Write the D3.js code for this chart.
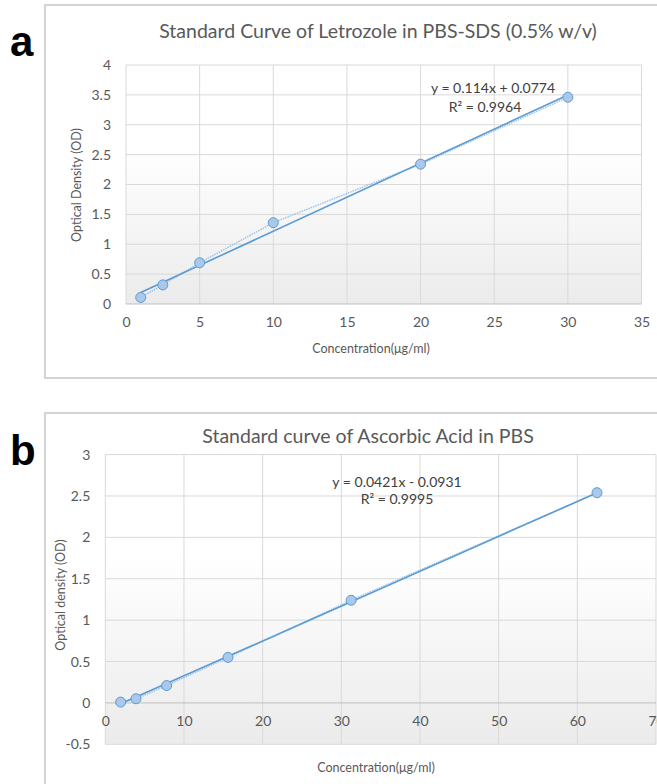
<!DOCTYPE html>
<html>
<head>
<meta charset="utf-8">
<script src="https://cdn.jsdelivr.net/npm/d3@7"></script>
<style>
  body { margin: 0; background: #fff; }
  svg { display: block; font-family: Lato, "Open Sans", sans-serif; }
</style>
</head>
<body>
<div id="chart"></div>
<script>
// data - chart a (letrozole)
var concA = [1, 2.5, 5, 10, 20, 30];
var odA = [0.11, 0.32, 0.69, 1.36, 2.34, 3.46];
var fitA = { slope: 0.114, intercept: 0.0774 };
var xTicksA = [0, 5, 10, 15, 20, 25, 30, 35];
var yTicksA = [0, 0.5, 1, 1.5, 2, 2.5, 3, 3.5, 4];

// data - chart b (ascorbic acid)
var concB = [1.95, 3.9, 7.8, 15.6, 31.25, 62.5];
var odB = [0.01, 0.05, 0.21, 0.55, 1.24, 2.54];
var fitB = { slope: 0.0421, intercept: -0.0931 };
var xTicksB = [0, 10, 20, 30, 40, 50, 60, 70];
var yTicksB = [-0.5, 0, 0.5, 1, 1.5, 2, 2.5, 3];

var svg = d3.select("#chart").append("svg")
  .attr("width", 657)
  .attr("height", 784);

var defs = svg.append("defs");
var grad = defs.append("linearGradient")
  .attr("id", "plotFill")
  .attr("x1", 0).attr("y1", 0).attr("x2", 0).attr("y2", 1);
grad.append("stop").attr("offset", "0.35").attr("stop-color", "#ffffff");
grad.append("stop").attr("offset", "1").attr("stop-color", "#ebebeb");

// excel style numbers: plain hyphen for negatives
var fmt = d => d3.format("~g")(d).replace("\u2212", "-");

function drawChart(opt) {
  var g = svg.append("g");

  // panel border
  g.append("rect")
    .attr("x", opt.panel[0]).attr("y", opt.panel[1])
    .attr("width", opt.panel[2]).attr("height", opt.panel[3])
    .attr("fill", "#fff")
    .attr("stroke", "#cfcfcf")
    .attr("stroke-width", 1.8);

  // big panel letter
  g.append("text")
    .attr("x", 10).attr("y", opt.letterY)
    .attr("font-size", 42)
    .attr("font-weight", "bold")
    .attr("font-family", "'Liberation Sans', Arial, sans-serif")
    .attr("fill", "#000")
    .text(opt.letter);

  var x = d3.scaleLinear().domain(opt.xDomain).range(opt.xRange);
  var y = d3.scaleLinear().domain(opt.yDomain).range(opt.yRange);

  g.append("rect")
    .attr("x", opt.xRange[0]).attr("y", opt.yRange[1])
    .attr("width", opt.xRange[1] - opt.xRange[0])
    .attr("height", opt.yRange[0] - opt.yRange[1])
    .attr("fill", "url(#plotFill)");

  // gridlines
  g.append("g").selectAll("line").data(opt.xTicks).enter().append("line")
    .attr("x1", d => x(d)).attr("x2", d => x(d))
    .attr("y1", opt.yRange[0]).attr("y2", opt.yRange[1])
    .attr("stroke", "#d9d9d9").attr("stroke-width", 1);
  g.append("g").selectAll("line").data(opt.yTicks).enter().append("line")
    .attr("x1", opt.xRange[0]).attr("x2", opt.xRange[1])
    .attr("y1", d => y(d)).attr("y2", d => y(d))
    .attr("stroke", d => d === 0 ? "#bfbfbf" : "#d9d9d9").attr("stroke-width", 1);

  // axes (labels only, Excel style)
  var yAxis = d3.axisLeft(y).tickValues(opt.yTicks).tickSize(0).tickPadding(15)
    .tickFormat(fmt);
  var xAxis = d3.axisBottom(x).tickValues(opt.xTicks).tickSize(0).tickPadding(13)
    .tickFormat(fmt);

  var ya = g.append("g")
    .attr("transform", `translate(${opt.xRange[0]},0)`)
    .call(yAxis);
  var xa = g.append("g")
    .attr("transform", `translate(0,${y(0)})`)
    .call(xAxis);
  [ya, xa].forEach(function(a) {
    a.select(".domain").remove();
    a.selectAll("text").attr("font-size", 14).attr("fill", "#595959")
      .attr("font-family", "Lato, sans-serif");
  });

  // title
  g.append("text")
    .attr("x", opt.titleX).attr("y", opt.titleY)
    .attr("text-anchor", "middle")
    .attr("font-size", 19.5)
    .attr("fill", "#595959")
    .text(opt.title);

  // axis titles
  g.append("text")
    .attr("x", opt.xTitle[0]).attr("y", opt.xTitle[1])
    .attr("text-anchor", "middle")
    .attr("font-size", 12.5)
    .attr("fill", "#595959")
    .text("Concentration(\u03bcg/ml)");
  g.append("text")
    .attr("transform", `translate(${opt.yTitle[0]},${opt.yTitle[1]}) rotate(-90)`)
    .attr("text-anchor", "middle")
    .attr("font-size", 12.5)
    .attr("fill", "#595959")
    .text(opt.yLabel);

  var pts = opt.xs.map((d, i) => [d, opt.ys[i]]);

  // dotted line through points
  var line = d3.line().x(d => x(d[0])).y(d => y(d[1]));
  g.append("path")
    .attr("d", line(pts))
    .attr("fill", "none")
    .attr("stroke", "#9dc3e6")
    .attr("stroke-width", 1.5)
    .attr("stroke-dasharray", "1.5,1");

  // linear trendline
  var x0 = d3.min(opt.xs), x1 = d3.max(opt.xs);
  var fitPts = [[x0, opt.fit.slope * x0 + opt.fit.intercept],
                [x1, opt.fit.slope * x1 + opt.fit.intercept]];
  g.append("path")
    .attr("d", line(fitPts))
    .attr("fill", "none")
    .attr("stroke", "#5b9bd5")
    .attr("stroke-width", 1.6);

  // markers
  g.append("g").selectAll("circle").data(pts).enter().append("circle")
    .attr("cx", d => x(d[0]))
    .attr("cy", d => y(d[1]))
    .attr("r", 5)
    .attr("fill", "#a9c8ea")
    .attr("stroke", "#5b9bd5")
    .attr("stroke-width", 1);

  // equation
  var sign = opt.fit.intercept < 0 ? " - " : " + ";
  g.append("text")
    .attr("x", opt.eq[0]).attr("y", opt.eq[1])
    .attr("text-anchor", "middle")
    .attr("font-size", 14)
    .attr("fill", "#404040")
    .text("y = " + opt.fit.slope + "x" + sign + Math.abs(opt.fit.intercept));
  g.append("text")
    .attr("x", opt.eq[2]).attr("y", opt.eq[3])
    .attr("text-anchor", "middle")
    .attr("font-size", 14)
    .attr("fill", "#404040")
    .text("R\u00b2 = " + opt.r2);
}

drawChart({
  panel: [45, 5, 630, 373],
  letter: "a", letterY: 56,
  title: "Standard Curve of Letrozole in PBS-SDS (0.5% w/v)",
  titleX: 378, titleY: 38,
  xDomain: [0, 35], xRange: [126, 641.5],
  yDomain: [0, 4], yRange: [304, 65],
  xTicks: xTicksA, yTicks: yTicksA,
  xs: concA, ys: odA, fit: fitA, r2: "0.9964",
  xTitle: [371, 353], yTitle: [81, 185],
  yLabel: "Optical Density (OD)",
  eq: [493, 93, 485, 112]
});

drawChart({
  panel: [45, 413, 630, 400],
  letter: "b", letterY: 465,
  title: "Standard curve of Ascorbic Acid in PBS",
  titleX: 368, titleY: 443,
  xDomain: [0, 70], xRange: [105.3, 656],
  yDomain: [-0.5, 3], yRange: [744.3, 454.6],
  xTicks: xTicksB, yTicks: yTicksB,
  xs: concB, ys: odB, fit: fitB, r2: "0.9995",
  xTitle: [376, 772], yTitle: [65, 595],
  yLabel: "Optical density (OD)",
  eq: [397, 487, 397, 504]
});
</script>
</body>
</html>
